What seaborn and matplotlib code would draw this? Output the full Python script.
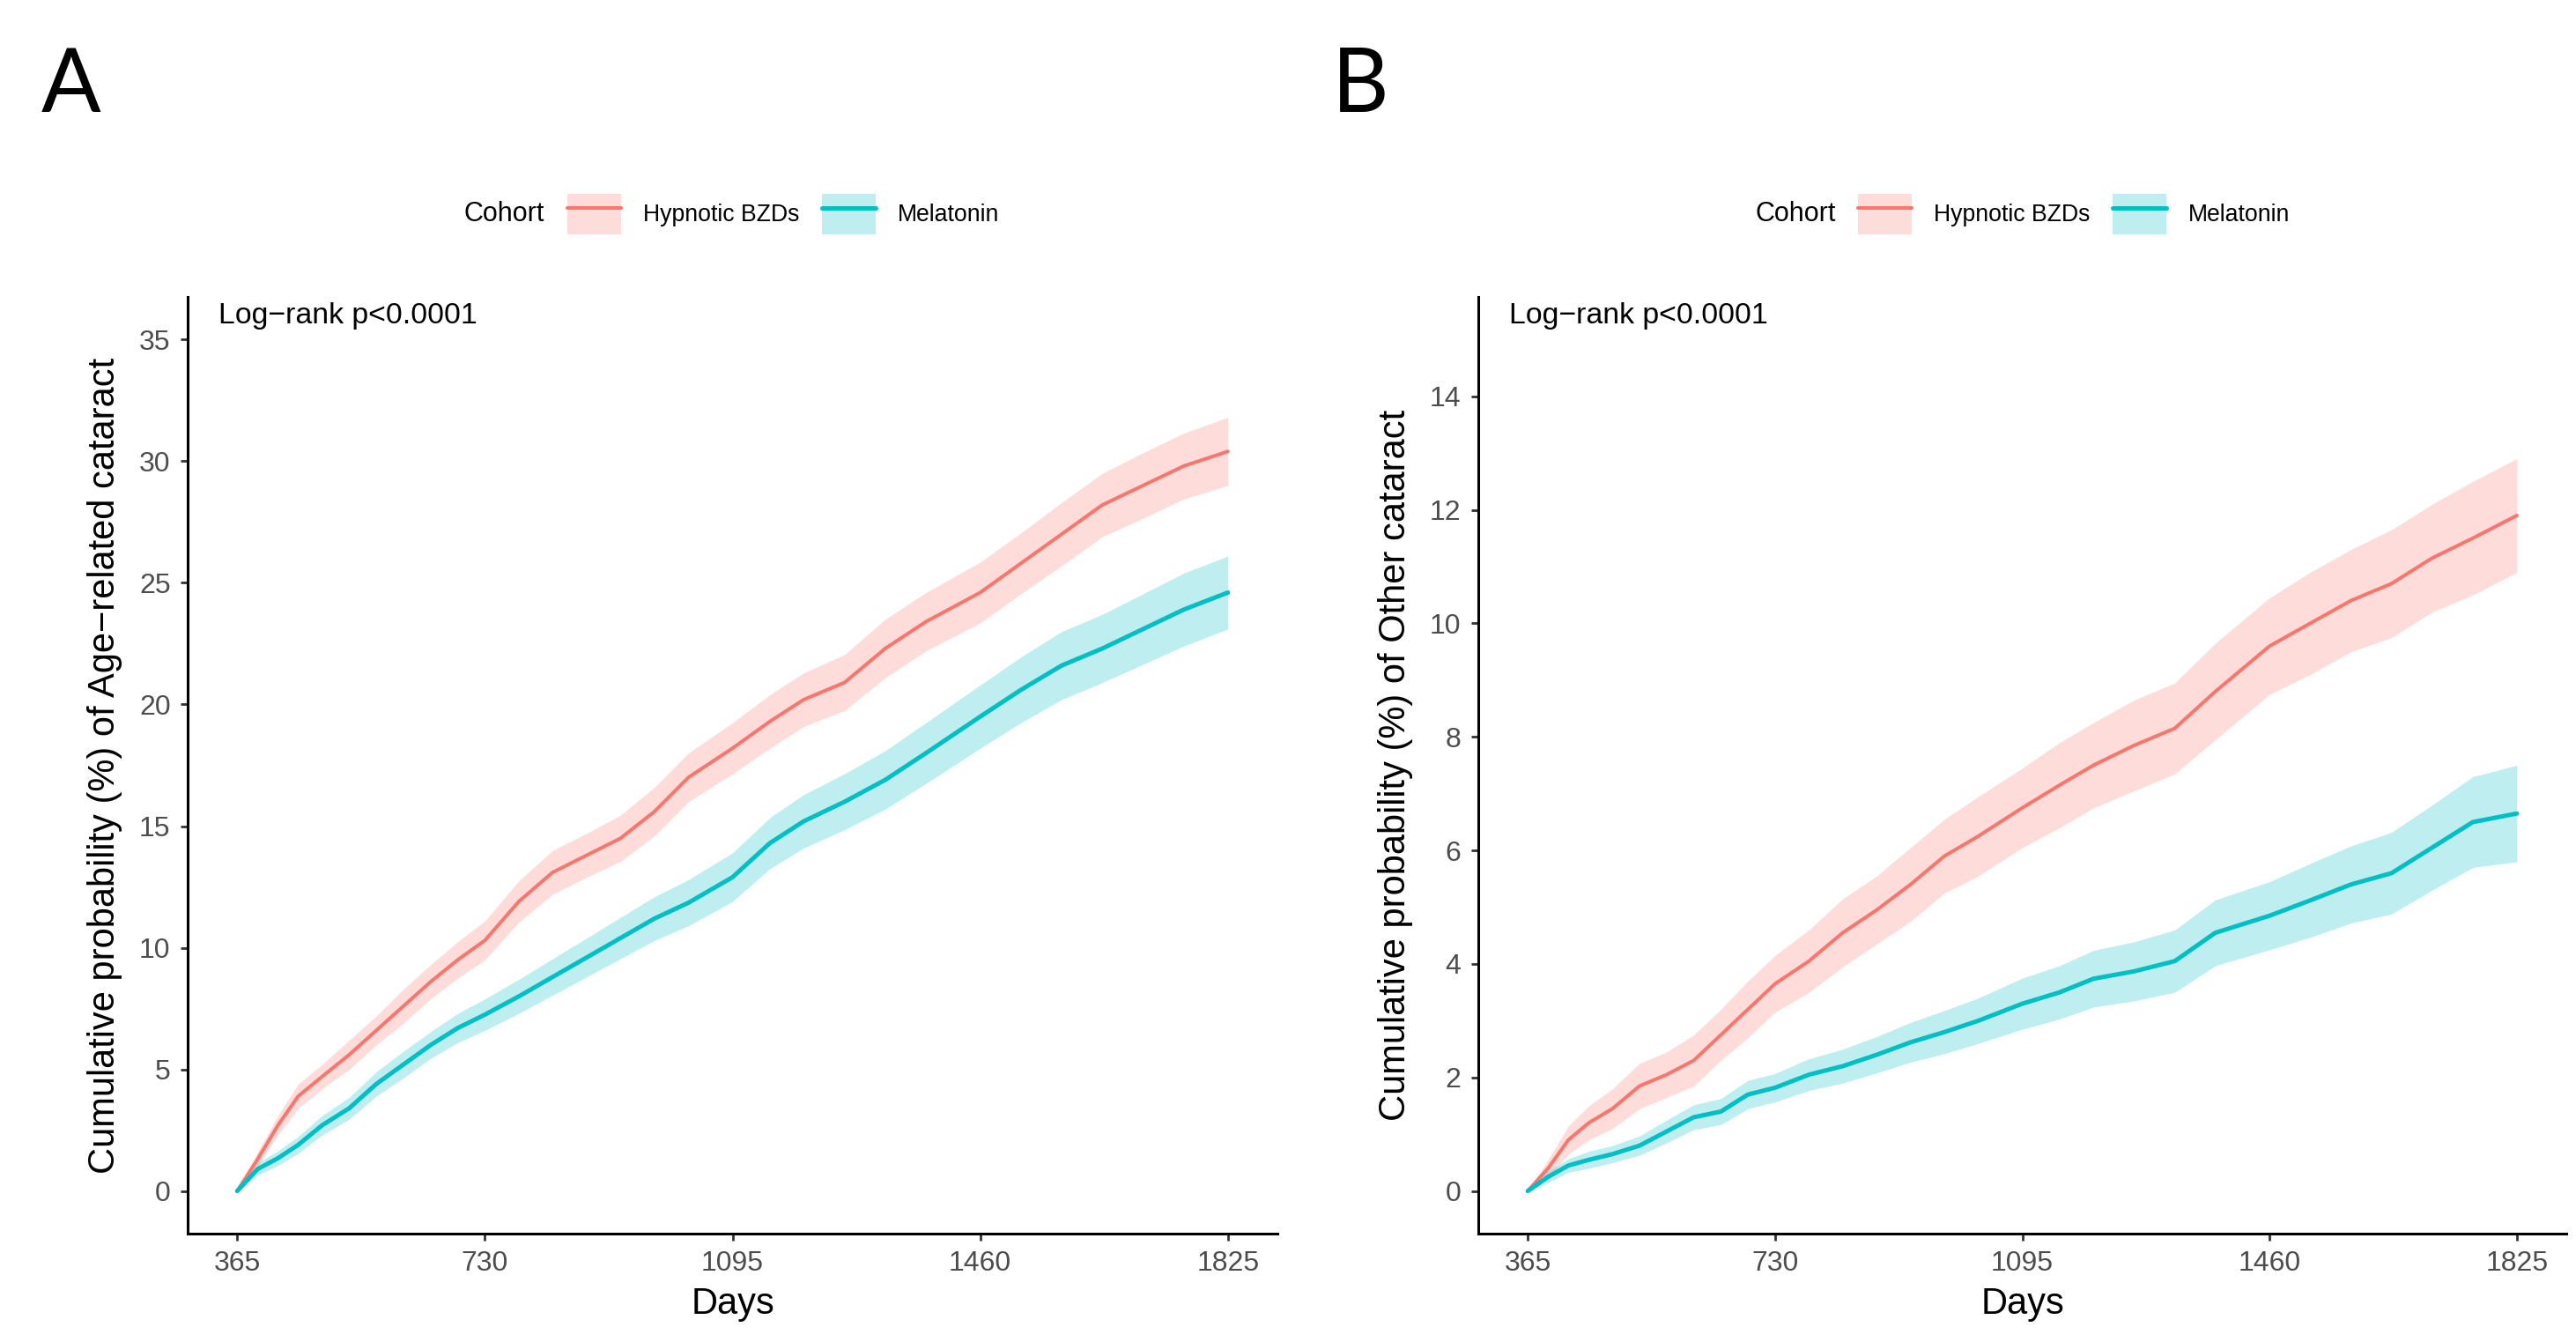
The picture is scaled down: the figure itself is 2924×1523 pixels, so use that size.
import matplotlib
matplotlib.use("Agg")
import numpy as np
import pandas as pd
import seaborn as sns
import matplotlib.pyplot as plt
from matplotlib.patches import Patch
from matplotlib.lines import Line2D
from matplotlib.legend_handler import HandlerTuple

# Follow-up days
days = [365, 395, 425, 455, 490, 530, 570, 610, 650, 690, 730, 780, 830, 880, 930,
        980, 1030, 1095, 1150, 1200, 1260, 1320, 1380, 1460, 1520, 1580, 1640, 1700, 1760, 1825]

# Panel A: age-related cataract
age_bzd = [0, 1.3, 2.7, 3.9, 4.7, 5.6, 6.6, 7.6, 8.6, 9.5, 10.3, 11.9, 13.1, 13.8, 14.5,
           15.6, 17.0, 18.2, 19.3, 20.2, 20.9, 22.3, 23.4, 24.6, 25.8, 27.0, 28.2, 29.0, 29.8, 30.4]
age_bzd_lo = [0, 1.0, 2.3, 3.4, 4.2, 5.0, 6.0, 6.9, 7.9, 8.75, 9.5, 11.05, 12.2, 12.9, 13.55,
              14.6, 16.0, 17.15, 18.2, 19.1, 19.75, 21.1, 22.2, 23.35, 24.55, 25.7, 26.9, 27.65, 28.45, 29.0]
age_bzd_hi = [0, 1.6, 3.1, 4.4, 5.2, 6.2, 7.2, 8.3, 9.3, 10.25, 11.1, 12.75, 14.0, 14.7, 15.45,
              16.6, 18.0, 19.25, 20.4, 21.3, 22.05, 23.5, 24.6, 25.85, 27.05, 28.3, 29.5, 30.35, 31.15, 31.8]
age_mel = [0, 0.9, 1.35, 1.9, 2.7, 3.4, 4.4, 5.2, 6.0, 6.7, 7.25, 8.0, 8.8, 9.6, 10.4,
           11.2, 11.85, 12.9, 14.3, 15.2, 16.0, 16.9, 18.0, 19.5, 20.6, 21.6, 22.3, 23.1, 23.9, 24.6]
age_mel_lo = [0, 0.65, 1.05, 1.55, 2.3, 2.95, 3.9, 4.65, 5.45, 6.1, 6.6, 7.3, 8.05, 8.8, 9.55,
              10.3, 10.9, 11.9, 13.25, 14.1, 14.85, 15.7, 16.75, 18.2, 19.25, 20.2, 20.9, 21.65, 22.4, 23.1]
age_mel_hi = [0, 1.15, 1.65, 2.25, 3.1, 3.85, 4.9, 5.75, 6.55, 7.3, 7.9, 8.7, 9.55, 10.4, 11.25,
              12.1, 12.8, 13.9, 15.35, 16.3, 17.15, 18.1, 19.25, 20.8, 21.95, 23.0, 23.7, 24.55, 25.4, 26.1]

# Panel B: other cataract
oth_bzd = [0, 0.4, 0.9, 1.2, 1.45, 1.85, 2.05, 2.3, 2.75, 3.2, 3.65, 4.05, 4.55, 4.95, 5.4,
           5.9, 6.25, 6.75, 7.15, 7.5, 7.85, 8.15, 8.8, 9.6, 10.0, 10.4, 10.7, 11.15, 11.5, 11.9]
oth_bzd_lo = [0, 0.25, 0.65, 0.9, 1.1, 1.45, 1.65, 1.85, 2.3, 2.7, 3.15, 3.5, 3.95, 4.35, 4.75,
              5.25, 5.55, 6.05, 6.4, 6.75, 7.05, 7.35, 7.95, 8.75, 9.1, 9.5, 9.75, 10.2, 10.5, 10.9]
oth_bzd_hi = [0, 0.55, 1.15, 1.5, 1.8, 2.25, 2.45, 2.75, 3.2, 3.7, 4.15, 4.6, 5.15, 5.55, 6.05,
              6.55, 6.95, 7.45, 7.9, 8.25, 8.65, 8.95, 9.65, 10.45, 10.9, 11.3, 11.65, 12.1, 12.5, 12.9]
oth_mel = [0, 0.25, 0.45, 0.55, 0.65, 0.8, 1.05, 1.3, 1.4, 1.7, 1.82, 2.05, 2.2, 2.4, 2.62,
           2.8, 3.0, 3.3, 3.5, 3.74, 3.87, 4.05, 4.55, 4.85, 5.12, 5.4, 5.6, 6.05, 6.5, 6.65]
oth_mel_lo = [0, 0.15, 0.33, 0.4, 0.5, 0.63, 0.85, 1.08, 1.17, 1.45, 1.57, 1.77, 1.9, 2.08, 2.27,
              2.42, 2.6, 2.85, 3.03, 3.24, 3.35, 3.5, 3.97, 4.25, 4.47, 4.72, 4.88, 5.3, 5.7, 5.8]
oth_mel_hi = [0, 0.35, 0.57, 0.7, 0.8, 0.97, 1.25, 1.52, 1.63, 1.95, 2.07, 2.33, 2.5, 2.72, 2.97,
              3.18, 3.4, 3.75, 3.97, 4.24, 4.39, 4.6, 5.13, 5.45, 5.77, 6.08, 6.32, 6.8, 7.3, 7.5]

cohorts = ["Hypnotic BZDs", "Melatonin"]
colors = {"Hypnotic BZDs": "#F8766D", "Melatonin": "#00BFC4"}
widths = {"Hypnotic BZDs": 1.45, "Melatonin": 1.8}
x_ticks = [365, 730, 1095, 1460, 1825]

sns.set_theme(style="ticks")
plt.rcParams["font.family"] = ["Liberation Sans", "DejaVu Sans"]

W, H = 2924, 1523
fig = plt.figure(figsize=(W / 200, H / 200), dpi=200)

panels = [
    dict(letter="A", left=213, width=1237, ylab="Cumulative probability (%) of Age\u2212related cataract",
         ylim=(-1.75, 36.75), yticks=list(range(0, 36, 5)),
         series={"Hypnotic BZDs": (age_bzd, age_bzd_lo, age_bzd_hi),
                 "Melatonin": (age_mel, age_mel_lo, age_mel_hi)}),
    dict(letter="B", left=1678, width=1235, ylab="Cumulative probability (%) of Other cataract",
         ylim=(-0.75, 15.75), yticks=list(range(0, 15, 2)),
         series={"Hypnotic BZDs": (oth_bzd, oth_bzd_lo, oth_bzd_hi),
                 "Melatonin": (oth_mel, oth_mel_lo, oth_mel_hi)}),
]

top, bottom = 337, 1400
for p in panels:
    ax = fig.add_axes([p["left"] / W, 1 - bottom / H, p["width"] / W, (bottom - top) / H])
    for c in cohorts:
        v, lo, hi = p["series"][c]
        ax.fill_between(days, lo, hi, color=colors[c], alpha=0.25, linewidth=0)
    for c in cohorts:
        v, lo, hi = p["series"][c]
        df = pd.DataFrame({"Days": days, "prob": v})
        sns.lineplot(data=df, x="Days", y="prob", color=colors[c], linewidth=widths[c],
                     estimator=None, ax=ax)
    ax.set_xlim(292, 1898)
    ax.set_ylim(*p["ylim"])
    ax.set_xticks(x_ticks)
    ax.set_yticks(p["yticks"])
    for s in ["top", "right"]:
        ax.spines[s].set_visible(False)
    for s in ["left", "bottom"]:
        ax.spines[s].set_linewidth(1.1)
        ax.spines[s].set_color("black")
    ax.tick_params(axis="both", length=3, width=1.0, color="#333333", labelcolor="#4D4D4D",
                   labelsize=11.5, pad=4)
    ax.set_xlabel("Days", fontsize=15, color="black")
    ax.xaxis.set_label_coords(0.5, -0.056)
    ax.set_ylabel(p["ylab"], fontsize=15, color="black")
    ax.yaxis.label.set_verticalalignment("center")
    ax.yaxis.set_label_coords(-0.076, 0.5)
    ax.text(0.0283, 0.980, "Log\u2212rank p<0.0001", transform=ax.transAxes, fontsize=12.2,
            va="center", ha="left", color="black")

    off = p["left"] - 213
    fig.text((47 + off) / W, 1 - 127 / H, p["letter"], fontsize=36, family=["Lato", "DejaVu Sans"],
             va="baseline", ha="left", color="black")
    fig.text((527 + off) / W, 1 - 243 / H, "Cohort", fontsize=11, va="center", ha="left",
             color="black")
    handles = [(Patch(facecolor=colors[c], alpha=0.25, edgecolor="none"),
                Line2D([], [], color=colors[c], linewidth=widths[c])) for c in cohorts]
    fig.legend(handles, cohorts, handler_map={tuple: HandlerTuple(ndivide=1, pad=0)},
               loc="center left", bbox_to_anchor=((644 + off) / W, 1 - 243 / H), ncol=2,
               frameon=False, fontsize=9.6, handlelength=2.3, handleheight=2.3,
               handletextpad=0.94, columnspacing=0.94, borderpad=0, borderaxespad=0,
               labelcolor="black")

fig.savefig("out.png", dpi=200, facecolor="white")
